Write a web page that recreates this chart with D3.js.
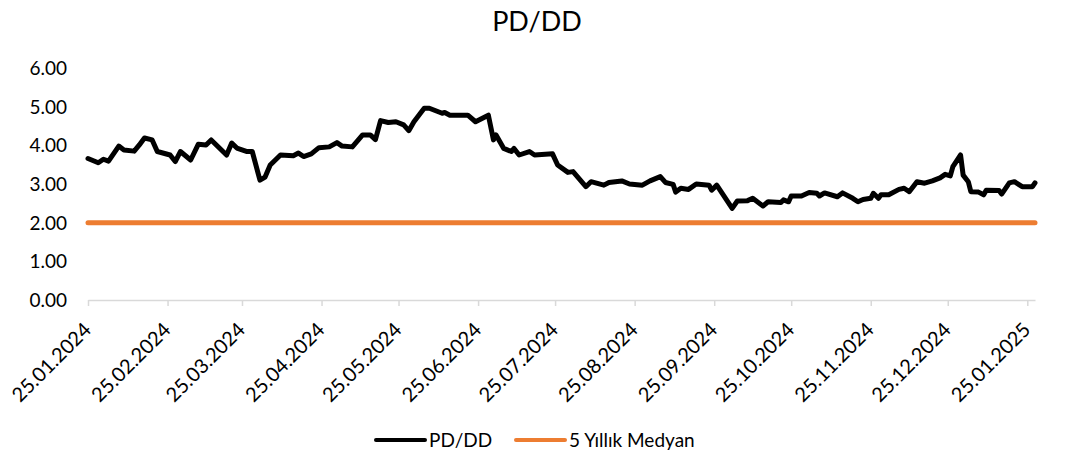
<!DOCTYPE html>
<html lang="tr">
<head>
    <meta charset="UTF-8">
    <title>PD/DD</title>
    <script src="https://cdn.jsdelivr.net/npm/d3@7"></script>
    <style>
        body { margin: 0; background: #fff; }
        svg { font-family: Lato, "Liberation Sans", sans-serif; }
        .line { fill: none; stroke-linejoin: round; stroke-linecap: round; }
    </style>
</head>
<body>
    <div id="chart"></div>
    <script>
        // data
        const dates = [
            "2024-01-25","2024-01-29","2024-01-31","2024-02-02","2024-02-06","2024-02-08","2024-02-12","2024-02-14","2024-02-16","2024-02-19",
            "2024-02-21","2024-02-26","2024-02-28","2024-03-01","2024-03-05","2024-03-08","2024-03-11","2024-03-13","2024-03-19","2024-03-21",
            "2024-03-23","2024-03-27","2024-03-29","2024-04-01","2024-04-03","2024-04-05","2024-04-09","2024-04-14","2024-04-16","2024-04-18",
            "2024-04-21","2024-04-24","2024-04-28","2024-05-01","2024-05-03","2024-05-07","2024-05-11","2024-05-14","2024-05-16","2024-05-18",
            "2024-05-21","2024-05-24","2024-05-27","2024-05-29","2024-05-31","2024-06-04","2024-06-06","2024-06-11","2024-06-12","2024-06-14",
            "2024-06-21","2024-06-24","2024-06-29","2024-07-01","2024-07-02","2024-07-05","2024-07-08","2024-07-09","2024-07-11","2024-07-15",
            "2024-07-17","2024-07-24","2024-07-26","2024-07-30","2024-08-01","2024-08-06","2024-08-08","2024-08-13","2024-08-15","2024-08-20",
            "2024-08-23","2024-08-28","2024-08-31","2024-09-04","2024-09-06","2024-09-09","2024-09-10","2024-09-12","2024-09-15","2024-09-18",
            "2024-09-23","2024-09-24","2024-09-26","2024-10-02","2024-10-04","2024-10-08","2024-10-10","2024-10-14","2024-10-16","2024-10-21",
            "2024-10-22","2024-10-24","2024-10-25","2024-10-29","2024-11-01","2024-11-04","2024-11-05","2024-11-07","2024-11-12","2024-11-14",
            "2024-11-18","2024-11-20","2024-11-22","2024-11-25","2024-11-26","2024-11-28","2024-11-29","2024-12-02","2024-12-06","2024-12-08",
            "2024-12-10","2024-12-13","2024-12-16","2024-12-19","2024-12-22","2024-12-24","2024-12-26","2024-12-27","2024-12-30","2024-12-31",
            "2025-01-02","2025-01-03","2025-01-06","2025-01-08","2025-01-09","2025-01-14","2025-01-15","2025-01-18","2025-01-20","2025-01-23",
            "2025-01-27","2025-01-28"
        ];
        const pdDd = [
            3.66,3.55,3.64,3.59,3.98,3.88,3.85,4.01,4.19,4.14,
            3.84,3.75,3.58,3.84,3.62,4.03,4.01,4.14,3.75,4.06,
            3.93,3.84,3.84,3.10,3.18,3.49,3.75,3.73,3.80,3.71,
            3.78,3.94,3.96,4.07,3.98,3.96,4.27,4.27,4.15,4.64,
            4.59,4.61,4.53,4.38,4.61,4.96,4.96,4.83,4.85,4.78,
            4.78,4.61,4.78,4.14,4.27,3.92,3.84,3.92,3.75,3.84,
            3.75,3.78,3.49,3.30,3.32,2.93,3.06,2.97,3.04,3.08,
            3.00,2.97,3.08,3.19,3.04,2.99,2.79,2.89,2.86,3.00,
            2.97,2.84,2.97,2.37,2.56,2.57,2.63,2.43,2.54,2.52,
            2.59,2.54,2.69,2.69,2.78,2.76,2.69,2.77,2.67,2.77,
            2.63,2.54,2.60,2.63,2.76,2.63,2.72,2.72,2.86,2.89,
            2.80,3.06,3.02,3.08,3.16,3.25,3.21,3.45,3.75,3.23,
            3.06,2.80,2.79,2.72,2.84,2.83,2.74,3.03,3.06,2.93,
            2.93,3.03
        ];
        const medianValue = 2.0;
        const yTicks = [0, 1, 2, 3, 4, 5, 6];
        const xTickDates = [
            "2024-01-25","2024-02-25","2024-03-25","2024-04-25","2024-05-25","2024-06-25","2024-07-25",
            "2024-08-25","2024-09-25","2024-10-25","2024-11-25","2024-12-25","2025-01-25"
        ];
        const seriesNames = ["PD/DD", "5 Yıllık Medyan"];
        const colors = ["#000000", "#ED7D31"];

        const W = 1082, H = 460;
        const margin = { top: 68, right: 47, bottom: 160, left: 88 };
        const width = W - margin.left - margin.right;
        const height = H - margin.top - margin.bottom;

        const parse = d3.timeParse("%Y-%m-%d");
        const fmt = d3.timeFormat("%d.%m.%Y");
        const data = dates.map((d, i) => ({ date: parse(d), value: pdDd[i] }));

        const x = d3.scaleTime()
            .domain([parse("2024-01-25"), parse("2025-01-28")])
            .range([0, width]);
        const y = d3.scaleLinear().domain([0, 6]).range([height, 0]);

        const svg = d3.select("#chart").append("svg")
            .attr("width", W).attr("height", H);

        svg.append("text")
            .attr("x", 537).attr("y", 31)
            .attr("text-anchor", "middle")
            .attr("font-size", 27)
            .attr("fill", "#000")
            .text("PD/DD");

        const g = svg.append("g")
            .attr("transform", "translate(" + margin.left + "," + margin.top + ")");

        // y labels (no axis line)
        g.selectAll(".ylab").data(yTicks).enter().append("text")
            .attr("class", "ylab")
            .attr("x", -21).attr("y", d => y(d))
            .attr("dy", "0.36em")
            .attr("text-anchor", "end")
            .attr("font-size", 19)
            .text(d => d.toFixed(2));

        // x axis
        const xAxis = g.append("g")
            .attr("transform", "translate(0," + height + ")")
            .call(d3.axisBottom(x)
                .tickValues(xTickDates.map(parse))
                .tickSize(6)
                .tickSizeOuter(0)
                .tickFormat(fmt));
        xAxis.select(".domain").attr("stroke", "#d9d9d9").attr("stroke-width", 1.5);
        xAxis.selectAll(".tick line").attr("stroke", "#d9d9d9").attr("stroke-width", 1.5);
        xAxis.selectAll(".tick text")
            .attr("font-family", "Lato, sans-serif")
            .attr("font-size", 20)
            .attr("fill", "#000")
            .attr("text-anchor", "end")
            .attr("dy", 0)
            .attr("x", 0).attr("y", 0)
            .attr("transform", "translate(4,31) rotate(-45)");

        // median line
        g.append("path")
            .datum(x.domain())
            .attr("class", "line")
            .attr("stroke", colors[1])
            .attr("stroke-width", 5)
            .attr("stroke-linecap", "butt")
            .attr("d", d3.line().x(d => x(d)).y(() => y(medianValue)));

        // PD/DD line
        g.append("path")
            .datum(data)
            .attr("class", "line")
            .attr("stroke", colors[0])
            .attr("stroke-width", 5)
            .attr("d", d3.line().x(d => x(d.date)).y(d => y(d.value)));

        // legend
        const legendX = [376, 516];
        const legend = svg.append("g").attr("transform", "translate(0,440)");
        seriesNames.forEach((name, i) => {
            legend.append("line")
                .attr("x1", legendX[i]).attr("x2", legendX[i] + 49)
                .attr("y1", 0).attr("y2", 0)
                .attr("stroke", colors[i]).attr("stroke-width", 4)
                .attr("stroke-linecap", "round");
            legend.append("text")
                .attr("x", legendX[i] + 53).attr("y", 0)
                .attr("dy", "0.36em")
                .attr("font-size", 19)
                .text(name);
        });
    </script>
</body>
</html>
